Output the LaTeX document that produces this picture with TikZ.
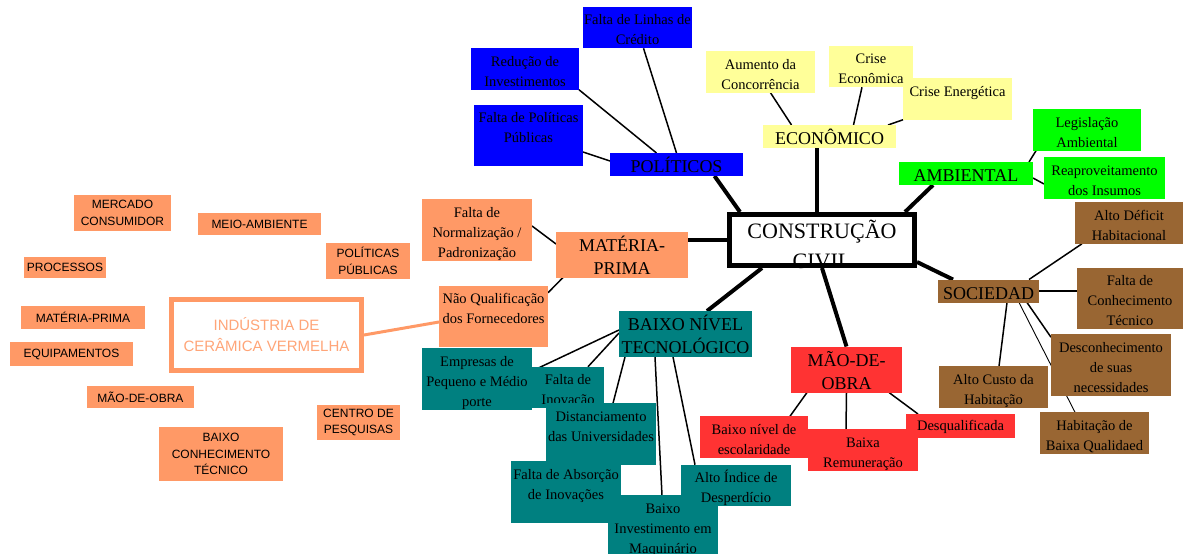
\documentclass[tikz,border=0pt]{standalone}
\usepackage{fontspec}
\setmainfont{Liberation Serif}
\setsansfont{Liberation Sans}
\pgfdeclarelayer{links}
\pgfsetlayers{links,main}

\definecolor{blueC}{RGB}{0,0,255}
\definecolor{yellowC}{RGB}{255,255,153}
\definecolor{greenC}{RGB}{0,255,0}
\definecolor{salmonC}{RGB}{255,153,102}
\definecolor{indText}{RGB}{255,165,120}
\definecolor{tealC}{RGB}{0,128,128}
\definecolor{redC}{RGB}{255,51,51}
\definecolor{brownC}{RGB}{153,102,51}

\newcommand\boxfont{\fontsize{14.5}{20}\selectfont}
\newcommand\catfont{\fontsize{18}{23}\selectfont}
\newcommand\tagfont{\sffamily\fontsize{12}{16.5}\selectfont}

\tikzset{
  box/.style={rectangle, inner sep=0pt, outer sep=0pt, align=center, font=\boxfont},
  cat/.style={rectangle, inner sep=0pt, outer sep=0pt, align=center, font=\catfont},
  % fixed text boxes, so every text sits the same way in its box
  l1/.style={text height=18pt, text depth=3.5pt},
  l2/.style={text height=38pt, text depth=3.5pt},
  l3/.style={text height=58pt, text depth=3.5pt},
  c1/.style={text height=19.5pt, text depth=3.5pt},
  c2/.style={text height=42.5pt, text depth=3.5pt},
  tag/.style={rectangle, fill=salmonC, inner sep=0pt, outer sep=0pt, align=center, font=\tagfont},
  link/.style={line width=1.5pt},
  thinlink/.style={line width=0.9pt},
  trunk/.style={line width=4pt},
}

\begin{document}
\begin{tikzpicture}[x=1pt,y=-1pt]
\useasboundingbox (0,0) rectangle (1183,554);

% ---- central node
\node[font=\fontsize{22}{30}\selectfont, align=center, inner sep=0pt, anchor=north] (cct) at (822,220) {CONSTRUÇÃO\\CIVIL};
\node[draw, line width=5pt, minimum width=185pt, minimum height=51pt, inner sep=0pt] (cc) at (822,240) {};

% ---- political
\node[box, l2, fill=blueC, minimum width=109pt, minimum height=37pt] (lin) at (637.5,27.5) {Falta de Linhas de\\Crédito};
\node[box, l2, fill=blueC, minimum width=108pt, minimum height=38pt] (red) at (525,69) {Redução de\\Investimentos};
\node[box, l3, fill=blueC, minimum width=109pt, minimum height=57pt] (fpp) at (528.5,135.5) {Falta de Políticas\\Públicas\\\mbox{}};
\node[cat, c1, fill=blueC, minimum width=133pt, minimum height=23pt] (polH) at (676.5,164.5) {POLÍTICOS};

% ---- economic
\node[box, l2, fill=yellowC, minimum width=109pt, minimum height=38pt] (aum) at (760.5,72) {Aumento da\\Concorrência};
\node[box, l2, fill=yellowC, minimum width=109pt, minimum height=38pt] (cen) at (957.5,99) {Crise Energética\\\mbox{}};
\node[box, l2, fill=yellowC, minimum width=84pt, minimum height=37pt] (cec) at (871,66.5) {Crise\\Econômica};
\node[cat, c1, fill=yellowC, minimum width=133pt, minimum height=23pt] (eco) at (829.5,136.5) {ECONÔMICO};

% ---- environmental
\node[box, l2, fill=greenC, minimum width=108pt, minimum height=38pt] (leg) at (1087,130) {Legislação\\Ambiental};
\node[box, l2, fill=greenC, minimum width=121pt, minimum height=38pt] (rea) at (1104.5,178) {Reaproveitamento\\dos Insumos};
\node[cat, c1, fill=greenC, minimum width=134pt, minimum height=23pt] (amb) at (966,173.5) {AMBIENTAL};

% ---- raw material
\node[cat, c2, fill=salmonC, minimum width=132pt, minimum height=45pt] (mp) at (622,254.5) {MATÉRIA-\\PRIMA};
\node[box, l3, fill=salmonC, minimum width=110pt, minimum height=58pt] (fn) at (477,230) {Falta de\\Normalização /\\Padronização};
\node[box, l3, fill=salmonC, minimum width=109pt, minimum height=57pt] (nq) at (493.5,316.5) {Não Qualificação\\dos Fornecedores\\\mbox{}};
\node[draw=salmonC, line width=5pt, fill=white, minimum width=190pt, minimum height=71pt, inner sep=0pt,
      text=indText, font=\sffamily\fontsize{15}{21}\selectfont, align=center] (ind) at (266.5,335) {INDÚSTRIA DE\\CERÂMICA VERMELHA};

\node[tag, minimum width=97pt, minimum height=36pt] (merc) at (122.5,213) {MERCADO\\CONSUMIDOR};
\node[tag, minimum width=123pt, minimum height=22pt] (meio) at (259.5,224) {MEIO-AMBIENTE};
\node[tag, minimum width=84pt, minimum height=36pt] (polp) at (368,261) {POLÍTICAS\\PÚBLICAS};
\node[tag, minimum width=82pt, minimum height=21pt] (proc) at (65,267.5) {PROCESSOS};
\node[tag, minimum width=124pt, minimum height=23pt] (mpr) at (83,317.5) {MATÉRIA-PRIMA};
\node[tag, minimum width=123pt, minimum height=24pt] (equ) at (71.5,354) {EQUIPAMENTOS};
\node[tag, minimum width=107pt, minimum height=22pt] (mao) at (140.5,397) {MÃO-DE-OBRA};
\node[tag, minimum width=83pt, minimum height=35pt] (cpq) at (358.5,422.5) {CENTRO DE\\PESQUISAS};
\node[tag, minimum width=124pt, minimum height=54pt] (bct) at (221,454) {BAIXO\\CONHECIMENTO\\TÉCNICO};

% ---- technology
\node[cat, c2, fill=tealC, minimum width=133pt, minimum height=46pt] (bnt) at (685.5,334) {BAIXO NÍVEL\\TECNOLÓGICO};
\node[box, l3, fill=tealC, minimum width=110pt, minimum height=58pt] (emp) at (477,379) {Empresas de\\Pequeno e Médio\\porte};
\node[box, l2, fill=tealC, minimum width=72pt, minimum height=39pt] (fin) at (568,387.5) {Falta de\\Inovação};
\node[box, l3, fill=tealC, minimum width=110pt, minimum height=58pt] (dis) at (601,434) {Distanciamento\\das Universidades\\\mbox{}};
\node[box, l3, fill=tealC, minimum width=110pt, minimum height=58pt] (fab) at (566,492) {Falta de Absorção\\de Inovações\\\mbox{}};
\node[box, l3, fill=tealC, minimum width=110pt, minimum height=58pt] (bim) at (663,526) {Baixo\\Investimento em\\Maquinário};
\node[box, l2, fill=tealC, minimum width=110pt, minimum height=37pt] (aid) at (736,485.5) {Alto Índice de\\Desperdício};

% ---- labour
\node[cat, c2, fill=redC, minimum width=111pt, minimum height=45pt] (mdo) at (846.5,369.5) {MÃO-DE-\\OBRA};
\node[box, l2, fill=redC, minimum width=108pt, minimum height=38pt] (bne) at (754,437) {Baixo nível de\\escolaridade};
\node[box, l2, fill=redC, minimum width=110pt, minimum height=38pt] (brm) at (863,450) {Baixa\\Remuneração};
\node[box, text height=13pt, text depth=3.5pt, fill=redC, minimum width=109pt, minimum height=24pt] (des) at (960.5,426) {Desqualificada};

% ---- society
\node[cat, c1, fill=brownC, minimum width=101pt, minimum height=22pt] (soc) at (988.5,291) {SOCIEDAD};
\node[box, l2, fill=brownC, minimum width=108pt, minimum height=38pt] (adh) at (1129,223) {Alto Déficit\\Habitacional};
\node[box, l3, fill=brownC, minimum width=106pt, minimum height=57pt] (fct) at (1130,298.5) {Falta de\\Conhecimento\\Técnico};
\node[box, l3, fill=brownC, minimum width=120pt, minimum height=58pt] (dsn) at (1111,365) {Desconhecimento\\de suas\\necessidades};
\node[box, l2, fill=brownC, minimum width=109pt, minimum height=38pt] (ach) at (993.5,387) {Alto Custo da\\Habitação};
\node[box, l2, fill=brownC, minimum width=109pt, minimum height=38pt] (hbq) at (1094.5,433) {Habitação de\\Baixa Qualidaed};

% ---- connectors, kept underneath the boxes
\begin{pgfonlayer}{links}
  % trunks from the centre
  \draw[trunk] ([xshift=38pt]polH.south) -- ([xshift=13pt]cc.north west);
  \draw[trunk] ([xshift=-12.5pt]eco.south) -- ([xshift=-5pt]cc.north);
  \draw[trunk] ([xshift=34pt]amb.south west) -- ([xshift=-12pt]cc.north east);
  \draw[trunk] ([yshift=14.5pt]mp.east) -- (cc.west);
  \draw[trunk] ([xshift=21.5pt]bnt.north) -- ([xshift=35pt]cc.south west);
  \draw[trunk] (cc.south) -- (mdo.north);
  \draw[trunk] ([yshift=6pt]cc.south east) -- ([xshift=15pt]soc.north west);
  % political
  \draw[link] (red.south east) -- ([xshift=-20pt]polH.north);
  \draw[link] ([xshift=6pt]lin.south) -- (polH.north);
  \draw[link] ([yshift=-16.5pt]fpp.east) -- ([yshift=3.5pt]polH.west);
  % economic
  \draw[link] ([xshift=10pt]aum.south) -- ([xshift=-38pt]eco.north);
  \draw[link] ([xshift=-9pt]cec.south) -- ([xshift=24pt]eco.north);
  \draw[link] (cen.south west) -- ([xshift=-8pt]eco.north east);
  % environmental
  \draw[link] ([xshift=-4pt]amb.north east) -- ([xshift=3pt]leg.south west);
  \draw[link] ([yshift=-4.5pt]amb.east) -- ([yshift=-6pt]rea.west);
  % raw material
  \draw[link] ([yshift=4pt]fn.east) -- ([yshift=10.5pt]mp.west);
  \draw[link] ([yshift=-7pt]nq.north east) -- ([xshift=7pt]mp.south west);
  \draw[salmonC, line width=3pt] (ind.east) -- ([yshift=-5.5pt]nq.west);
  % technology
  \draw[link] ([yshift=4pt]bnt.west) -- ([yshift=8pt]emp.east);
  \draw[link] ([yshift=1pt]bnt.west) -- ([xshift=20pt]fin.north);
  \draw[link] ([xshift=6pt]bnt.south west) -- ([xshift=12pt]dis.north);
  \draw[link] ([xshift=-30.5pt]bnt.south) -- ([xshift=-1pt]bim.north);
  \draw[link] ([xshift=-12.5pt]bnt.south) -- ([xshift=14pt]aid.north west);
  % labour
  \draw[link] ([xshift=16pt]mdo.south west) -- ([xshift=-18pt]bne.north east);
  \draw[link] (mdo.south) -- ([xshift=-17pt]brm.north);
  \draw[link] ([xshift=-13pt]mdo.south east) -- ([xshift=12pt]des.north west);
  % society
  \draw[link] ([xshift=-10pt]soc.north east) -- ([xshift=7pt]adh.south west);
  \draw[line width=2.5pt] (soc.east) -- ([yshift=7.5pt]fct.west);
  \draw[link] ([xshift=-12pt]soc.south east) -- ([yshift=-3pt]dsn.north west);
  \draw[link] ([xshift=18.5pt]soc.south) -- ([xshift=5.5pt]ach.north);
  \draw[thinlink] ([xshift=30.5pt]soc.south) -- ([xshift=-19.5pt]hbq.north);
\end{pgfonlayer}
\end{tikzpicture}
\end{document}
